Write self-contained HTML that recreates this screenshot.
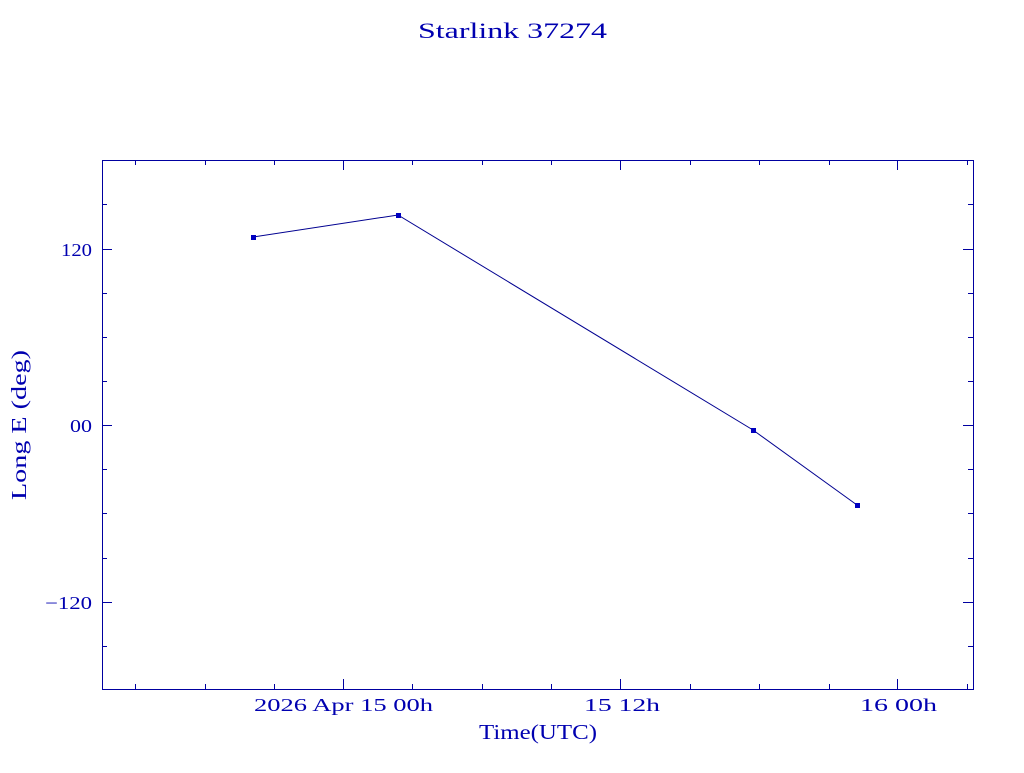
<!DOCTYPE html>
<html><head><meta charset="utf-8"><style>
body{margin:0;background:#fff;}
text{font-family:"Liberation Serif","DejaVu Serif",serif;fill:#0000b0;}
</style></head><body>
<svg width="1024" height="768" viewBox="0 0 1024 768" xmlns="http://www.w3.org/2000/svg">
<rect x="0" y="0" width="1024" height="768" fill="#fff"/>
<text x="418" y="38" font-size="22" textLength="189" lengthAdjust="spacingAndGlyphs">Starlink 37274</text>
<g stroke="#0000a0" stroke-width="1" fill="none">
<rect x="102.5" y="160.5" width="871" height="529"/>
<path d="M135.5 689v-5M205.5 689v-5M274.5 689v-5M343.5 689v-10M412.5 689v-5M482.5 689v-5M551.5 689v-5M620.5 689v-10M690.5 689v-5M759.5 689v-5M829.5 689v-5M897.5 689v-10M967.5 689v-5
M135.5 160v5M205.5 160v5M274.5 160v5M343.5 160v10M412.5 160v5M482.5 160v5M551.5 160v5M620.5 160v10M690.5 160v5M759.5 160v5M829.5 160v5M897.5 160v10M967.5 160v5"/>
<path d="M102 204.5h5M102 249.5h10M102 293.5h5M102 337.5h5M102 381.5h5M102 425.5h10M102 469.5h5M102 513.5h5M102 558.5h5M102 602.5h10M102 646.5h5
M973 204.5h-5M973 249.5h-10M973 293.5h-5M973 337.5h-5M973 381.5h-5M973 425.5h-10M973 469.5h-5M973 513.5h-5M973 558.5h-5M973 602.5h-10M973 646.5h-5"/>
<polyline points="253,237 398,215 753,430 857,505" stroke="#000090"/>
</g>
<g fill="#0000c0">
<rect x="251" y="235" width="5" height="5"/><rect x="396" y="213" width="5" height="5"/>
<rect x="751" y="428" width="5" height="5"/><rect x="855" y="503" width="5" height="5"/>
</g>
<g font-size="18">
<text x="61" y="256" textLength="31" lengthAdjust="spacingAndGlyphs">120</text>
<text x="70" y="432" textLength="22" lengthAdjust="spacingAndGlyphs">00</text>
<text x="45" y="609" textLength="47" lengthAdjust="spacingAndGlyphs">−120</text>
</g>
<g font-size="18" xml:space="preserve">
<text x="254" y="711" textLength="179" lengthAdjust="spacingAndGlyphs">2026 Apr 15  00h</text>
<text x="584" y="711" textLength="76" lengthAdjust="spacingAndGlyphs">15  12h</text>
<text x="860" y="711" textLength="77" lengthAdjust="spacingAndGlyphs">16  00h</text>
</g>
<text x="479" y="739" font-size="21" textLength="118" lengthAdjust="spacingAndGlyphs">Time(UTC)</text>
<text transform="translate(26,500) rotate(-90)" font-size="21" textLength="150" lengthAdjust="spacingAndGlyphs">Long E (deg)</text>
</svg>
</body></html>
